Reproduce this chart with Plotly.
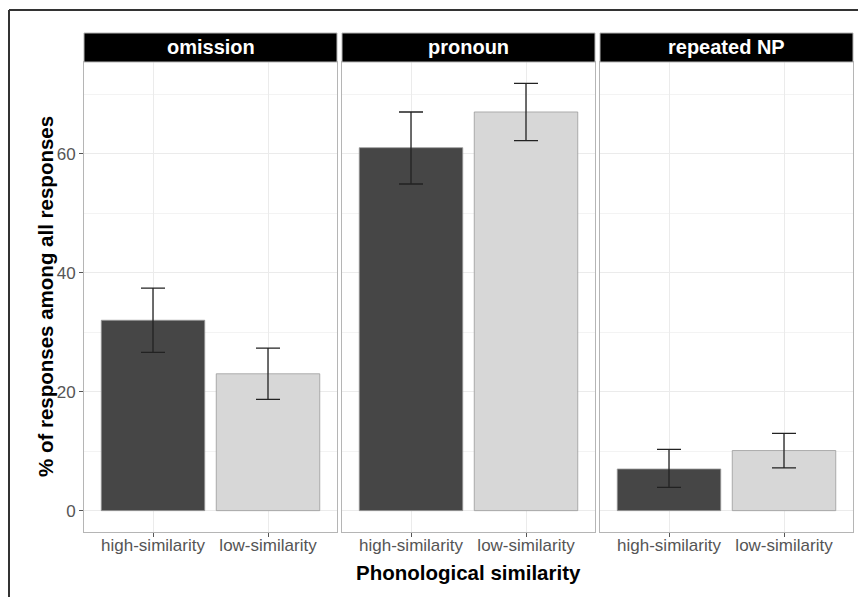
import plotly.graph_objects as go

facets = ["omission", "pronoun", "repeated NP"]
categories = ["high-similarity", "low-similarity"]
values = [[32.0, 23.0], [61.0, 67.0], [7.0, 10.1]]
err_upper = [[37.4, 27.3], [67.0, 71.8], [10.3, 13.0]]
err_lower = [[26.6, 18.7], [54.9, 62.2], [3.9, 7.2]]
y_ticks = [0, 20, 40, 60]
bar_colors = ["#464646", "#d7d7d7"]

# the page body adds an 8px margin; work in page coordinates and shift
OFF = 8
W, H = 866 - OFF, 597 - OFF


def px(v):
    return v - OFF


plot_left, plot_right = px(84), px(853)
plot_top_strip, plot_top, plot_bottom = px(33), px(62), px(532)
ml, mr, mt, mb = plot_left, W - plot_right, plot_top_strip, H - plot_bottom
pw = W - ml - mr
ph = H - mt - mb
panel_px = [(px(84), px(337)), (px(342), px(595)), (px(600), px(853))]
ytop = (plot_bottom - plot_top) / ph
FONT = "Liberation Sans, Arial, sans-serif"

fig = go.Figure()
for i, f in enumerate(facets):
    sfx = "" if i == 0 else str(i + 1)
    ups = [u - v for u, v in zip(err_upper[i], values[i])]
    dns = [v - l for l, v in zip(err_lower[i], values[i])]
    fig.add_trace(go.Bar(
        x=categories, y=values[i], xaxis="x" + sfx, yaxis="y" + sfx,
        width=0.9,
        marker=dict(color=bar_colors, line=dict(color="#9a9a9a", width=0.8)),
        error_y=dict(type="data", symmetric=False, array=ups, arrayminus=dns,
                     color="#222222", thickness=1.3, width=12),
        showlegend=False, hoverinfo="skip"))
    x0 = (panel_px[i][0] - ml) / pw
    x1 = (panel_px[i][1] - ml) / pw
    common_axis = dict(showline=True, mirror=True, linecolor="#b5b5b5", linewidth=1,
                       gridcolor="#ebebeb", gridwidth=1, zeroline=False)
    fig.layout["xaxis" + sfx] = dict(
        domain=[x0, min(x1, 1)], anchor="y" + sfx, type="category",
        range=[-0.6, 1.6], ticks="outside", ticklen=4, tickcolor="#555555",
        ticklabelstandoff=-6,
        tickfont=dict(family=FONT, size=17, color="#555555"),
        showgrid=True, **common_axis)
    ydict = dict(
        domain=[0, ytop], anchor="x" + sfx, range=[-3.59, 75.4],
        tickvals=y_ticks, ticks="outside" if i == 0 else "", ticklen=4, tickcolor="#555555",
        showticklabels=(i == 0),
        tickfont=dict(family=FONT, size=17, color="#555555"),
        minor=dict(dtick=10, tick0=10, showgrid=True, gridcolor="#f3f3f3", gridwidth=0.6),
        showgrid=True, **common_axis)
    if i > 0:
        ydict["matches"] = "y"
    fig.layout["yaxis" + sfx] = ydict
    strip_h = (plot_top - plot_top_strip) / (plot_bottom - plot_top)
    fig.add_shape(type="rect", xref="x" + sfx + " domain", yref="y" + sfx + " domain",
                  x0=0, x1=1, y0=1, y1=1 + strip_h,
                  fillcolor="black", line=dict(color="#b5b5b5", width=1), layer="above")
    fig.add_annotation(text="<b>" + f + "</b>", xref="x" + sfx + " domain", yref="y" + sfx + " domain",
                       x=0.5, y=1 + strip_h / 2, showarrow=False,
                       xanchor="center", yanchor="middle",
                       font=dict(family=FONT, size=20, color="white"))

# axis titles
fig.add_annotation(text="<b>Phonological similarity</b>", xref="paper", yref="paper",
                   x=(px(468) - ml) / pw, y=-(px(572) - plot_bottom) / ph, showarrow=False,
                   xanchor="center", yanchor="middle",
                   font=dict(family=FONT, size=20.5, color="black"))
fig.add_annotation(text="<b>% of responses among all responses</b>", xref="paper", yref="paper",
                   x=(px(45) - ml) / pw, y=(plot_bottom - px(297)) / ph, showarrow=False,
                   textangle=-90, xanchor="center", yanchor="middle",
                   font=dict(family=FONT, size=20.5, color="black"))

# outer frame lines (top and left)
fx, fy = px(9), px(10)
fig.add_shape(type="line", xref="paper", yref="paper",
              x0=(fx - ml) / pw, x1=(W + 10 - ml) / pw,
              y0=(plot_bottom - fy) / ph, y1=(plot_bottom - fy) / ph,
              line=dict(color="#333333", width=2))
fig.add_shape(type="line", xref="paper", yref="paper",
              x0=(fx - ml) / pw, x1=(fx - ml) / pw,
              y0=(plot_bottom - fy) / ph, y1=-(H + 10 - plot_bottom) / ph,
              line=dict(color="#333333", width=2))

fig.update_layout(width=W, height=H, margin=dict(l=ml, r=mr, t=mt, b=mb),
                  plot_bgcolor="white", paper_bgcolor="white", bargap=0.1)
fig.write_html("out.html")
